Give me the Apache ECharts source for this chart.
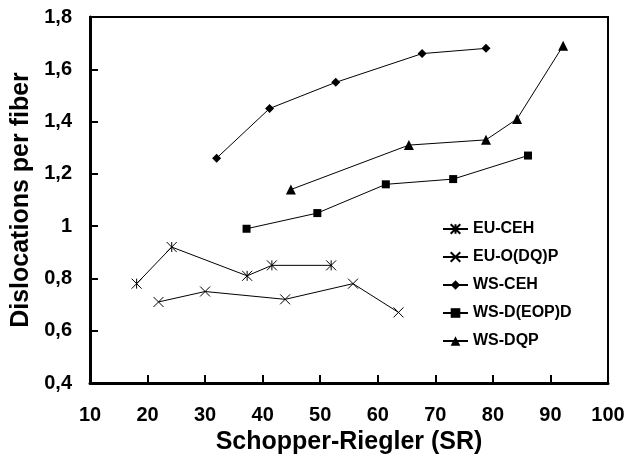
<!DOCTYPE html>
<html>
<head>
<meta charset="utf-8">
<script src="https://cdn.jsdelivr.net/npm/echarts@6/dist/echarts.min.js"></script>
<style>
  html, body { margin: 0; padding: 0; background: #fff; }
  #wrap { position: relative; width: 629px; height: 461px; }
  #chart { width: 629px; height: 461px; }
  .fl { position: absolute; background: #000; pointer-events: none; }
</style>
</head>
<body>
<div id="wrap"><div id="chart"></div></div>
<script>
// values
const euCehX = [18.1, 24.2, 37.3, 41.6, 51.9]
const euCehY = [0.78, 0.92, 0.81, 0.85, 0.85]
const euOdqpX = [21.9, 30.0, 43.9, 55.7, 63.6]
const euOdqpY = [0.71, 0.75, 0.72, 0.78, 0.67]
const wsCehX = [32.0, 41.2, 52.7, 67.7, 78.8]
const wsCehY = [1.26, 1.45, 1.55, 1.66, 1.68]
const wsDeopdX = [37.2, 49.5, 61.4, 73.1, 86.1]
const wsDeopdY = [0.99, 1.05, 1.16, 1.18, 1.27]
const wsDqpX = [44.9, 65.4, 78.8, 84.2, 92.2]
const wsDqpY = [1.14, 1.31, 1.33, 1.41, 1.69]
const xTicks = [10, 20, 30, 40, 50, 60, 70, 80, 90, 100]
const yTicks = [0.4, 0.6, 0.8, 1.0, 1.2, 1.4, 1.6, 1.8]

const font = '"Liberation Sans", Arial, sans-serif'

function pairs(xs, ys) {
  return xs.map((x, i) => [x, ys[i]])
}

function makeSeries(name, xs, ys, symbol, size, stroke, v) {
  const s = {
    name: name,
    type: 'line',
    data: pairs(xs, ys),
    symbol: symbol,
    symbolSize: size,
    lineStyle: { color: '#000', width: 1 },
    itemStyle: stroke
      ? { color: 'transparent', borderColor: '#000', borderWidth: 1 }
      : (v >= 1 ? { color: '#000', borderColor: '#000', borderWidth: 0.5 } : { color: '#000', borderWidth: 0 })
  }
  if (v < 2) s.emphasis = { disabled: true }
  return s
}

function build(v) {
  return {
    backgroundColor: '#fff',
    animation: false,
    grid: {
      left: 90,
      right: 21,
      top: 17,
      bottom: 78,
      outerBoundsMode: 'none',
      show: true,
      borderColor: '#000',
      borderWidth: 2
    },
    legend: {
      orient: 'vertical',
      left: 442,
      top: 221,
      padding: 0,
      itemWidth: 25,
      itemHeight: 12,
      itemGap: 12,
      textStyle: { fontFamily: font, fontWeight: 'bold', fontSize: 16, color: '#000' },
      data: ['EU-CEH', 'EU-O(DQ)P', 'WS-CEH', 'WS-D(EOP)D', 'WS-DQP']
    },
    xAxis: {
      type: 'value',
      min: 10,
      max: 100,
      interval: 10,
      name: 'Schopper-Riegler (SR)',
      nameLocation: 'middle',
      nameGap: 46,
      nameTextStyle: { fontFamily: font, fontWeight: 'bold', fontSize: 25, color: '#000' },
      axisLine: { show: true, onZero: false, lineStyle: { color: '#000', width: 3 } },
      axisTick: { show: true, inside: true, length: 8, lineStyle: { color: '#000', width: 2 } },
      axisLabel: { fontFamily: font, fontWeight: 'bold', fontSize: 20, color: '#000', margin: 22 },
      splitLine: { show: false }
    },
    yAxis: {
      type: 'value',
      min: 0.4,
      max: 1.8,
      interval: 0.2,
      name: 'Dislocations per fiber',
      nameLocation: 'middle',
      nameGap: 52,
      nameTextStyle: { fontFamily: font, fontWeight: 'bold', fontSize: 25, color: '#000' },
      axisLine: { show: true, onZero: false, lineStyle: { color: '#000', width: 3 } },
      axisTick: { show: true, inside: true, length: 8, lineStyle: { color: '#000', width: 2 } },
      axisLabel: {
        fontFamily: font, fontWeight: 'bold', fontSize: 20, color: '#000', margin: 18,
        formatter: function (val) {
          return String(Math.round(val * 10) / 10).replace('.', ',')
        }
      },
      splitLine: { show: false }
    },
    series: [
      makeSeries('EU-CEH', euCehX, euCehY, 'path://M0,0L10,10M10,0L0,10M5,0L5,10', 10, true, v),
      makeSeries('EU-O(DQ)P', euOdqpX, euOdqpY, 'path://M0,0L10,10M10,0L0,10', 10, true, v),
      makeSeries('WS-CEH', wsCehX, wsCehY, 'diamond', 9, false, v),
      makeSeries('WS-D(EOP)D', wsDeopdX, wsDeopdY, 'rect', 8, false, v),
      makeSeries('WS-DQP', wsDqpX, wsDqpY, 'triangle', 10, false, v)
    ]
  }
}

const chart = echarts.init(document.getElementById('chart'))
let cssFrame = false

function p(x, y) {
  return chart.convertToPixel({ gridIndex: 0 }, [x, y])
}

function apply(v) {
  chart.clear()
  chart.setOption(build(v))
  chart.getZr().refreshImmediately()
}

// looks for dark pixels on the left axis and on the top border
function dark(pt) {
  const cv = document.querySelector('#chart canvas')
  if (!cv) return false
  const d = cv.getContext('2d').getImageData(Math.round(pt[0]) - 3, Math.round(pt[1]) - 3, 7, 7).data
  for (let i = 0; i < d.length; i += 4) {
    if (d[i] < 90 && d[i + 3] > 150) return true
  }
  return false
}

function framed() {
  if (cssFrame) return true
  try {
    return dark(p(10, 1.1)) && dark(p(55, 1.8))
  } catch (e) {
    return true
  }
}

function graphicFrame() {
  const els = []
  const line = (a, b, w) => els.push({
    type: 'line', silent: true, z: 100,
    shape: { x1: a[0], y1: a[1], x2: b[0], y2: b[1] },
    style: { stroke: '#000', lineWidth: w }
  })
  line(p(10, 1.8), p(100, 1.8), 2)
  line(p(100, 0.4), p(100, 1.8), 2)
  line(p(10, 0.4), p(10, 1.8), 3)
  line(p(10, 0.4), p(100, 0.4), 3)
  xTicks.forEach(t => { const a = p(t, 0.4); line(a, [a[0], a[1] - 8], 2) })
  yTicks.forEach(t => { const a = p(10, t); line(a, [a[0] + 8, a[1]], 2) })
  chart.setOption({ graphic: { elements: els } })
  chart.getZr().refreshImmediately()
}

function css(x, y, w, h) {
  const d = document.createElement('div')
  d.className = 'fl'
  d.style.left = x + 'px'
  d.style.top = y + 'px'
  d.style.width = w + 'px'
  d.style.height = h + 'px'
  document.getElementById('wrap').appendChild(d)
}

function cssFrameDraw() {
  if (cssFrame) return
  cssFrame = true
  const tl = p(10, 1.8)
  const br = p(100, 0.4)
  css(tl[0], tl[1] - 1, br[0] - tl[0], 2)
  css(br[0] - 1, tl[1], 2, br[1] - tl[1])
  css(tl[0] - 1.5, tl[1], 3, br[1] - tl[1] + 1.5)
  css(tl[0] - 1.5, br[1] - 1.5, br[0] - tl[0] + 1.5, 3)
  xTicks.forEach(t => { const a = p(t, 0.4); css(a[0] - 1, a[1] - 8, 2, 8) })
  yTicks.forEach(t => { const a = p(10, t); css(a[0], a[1] - 1, 8, 2) })
}

let v = 0
apply(v)
while (!framed() && v < 2) {
  v++
  apply(v)
}
if (!framed()) graphicFrame()
if (!framed()) cssFrameDraw()

setTimeout(function () {
  if (!framed()) cssFrameDraw()
}, 150)
</script>
</body>
</html>
